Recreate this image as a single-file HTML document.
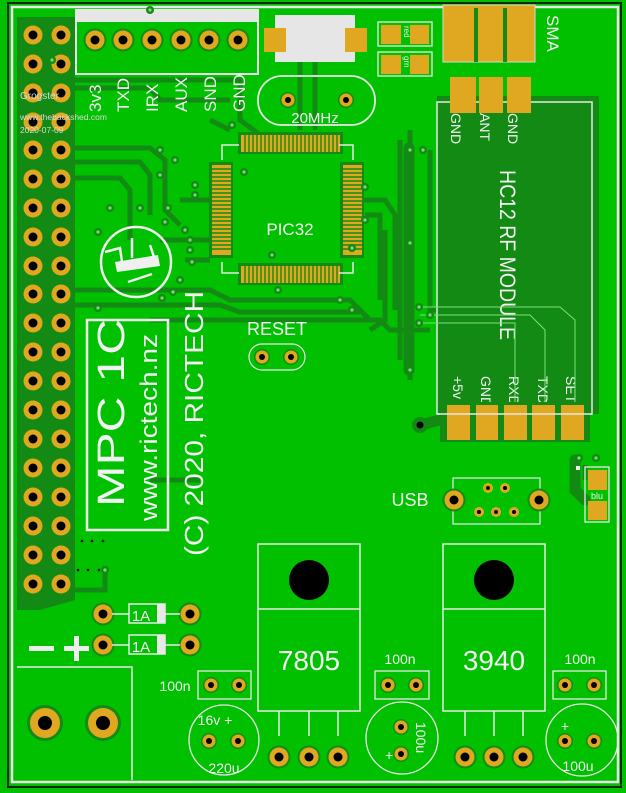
<!DOCTYPE html>
<html><head><meta charset="utf-8"><style>
html,body{margin:0;padding:0;background:#00b800;}
svg{display:block}
text{font-family:"Liberation Sans",sans-serif;fill:#f2f2f2}
</style></head><body>
<svg width="626" height="793" viewBox="0 0 626 793" xmlns="http://www.w3.org/2000/svg">
<defs>
<g id="p"><circle r="11.5" fill="#138a13"/><circle r="9.5" fill="#e0a820"/><circle r="4.5" fill="#000"/></g>
<g id="ps"><circle r="8" fill="#138a13"/><circle r="6.5" fill="#e0a820"/><circle r="3" fill="#000"/></g>
<g id="v"><circle r="4" fill="#138a13"/><circle r="1.6" fill="#7cd87c"/></g>
</defs>
<rect width="626" height="793" fill="#00c000"/>
<rect x="8" y="3" width="613" height="784" fill="none" stroke="#0a2a0a" stroke-width="2"/>
<rect x="12" y="7" width="606" height="775" fill="none" stroke="#e8e8e8" stroke-width="2.5"/>

<path d="M17,17 L75,17 L75,600 L40,610 L17,610 Z" fill="#138a13"/>
<g stroke="#138a13" stroke-width="5" fill="none">
<path d="M50,80 L240,80 L240,120 L260,135"/><path d="M50,88 L150,88 L160,100 L230,100"/>
<path d="M75,148 L150,148 L165,160 L165,210 L180,225"/><path d="M75,162 L140,162 L150,175 L150,215"/>
<path d="M75,178 L120,178 L130,190 L130,240"/><path d="M75,290 L210,290 L230,300 L350,300 L370,320"/>
<path d="M75,305 L220,305 L240,312 L360,312"/><path d="M150,320 L380,320 L390,330 L430,330"/>
<path d="M150,480 L200,480"/><path d="M17,600 L60,590 L105,590 L105,570"/>
<path d="M400,140 L400,360"/><path d="M410,130 L410,380"/><path d="M385,230 L385,320 L370,330"/>
<path d="M430,150 L430,310 L440,310"/><path d="M300,60 L300,130"/><path d="M315,60 L315,130"/>
<path d="M160,240 L210,240"/><path d="M180,200 L210,200"/><path d="M185,260 L210,260"/>
<path d="M360,200 L385,200 L395,215 L395,310"/><path d="M210,120 L230,130"/>
<path d="M365,215 L380,215 L380,300"/><path d="M585,465 L585,480"/>
</g>
<g stroke="#138a13" stroke-width="11" fill="none" stroke-linecap="round"><path d="M409,148 L409,370"/><path d="M420,425 L440,420"/><path d="M575,460 L575,490 L585,500"/></g>
<circle cx="420" cy="425" r="8" fill="#138a13"/>
<circle cx="420" cy="425" r="3.5" fill="#000"/>

<g>
<use href="#p" x="33" y="35"/><use href="#p" x="61" y="35"/>
<use href="#p" x="33" y="64"/><use href="#p" x="61" y="64"/>
<use href="#p" x="33" y="93"/><use href="#p" x="61" y="93"/>
<use href="#p" x="33" y="122"/><use href="#p" x="61" y="122"/>
<use href="#p" x="33" y="150"/><use href="#p" x="61" y="150"/>
<use href="#p" x="33" y="179"/><use href="#p" x="61" y="179"/>
<use href="#p" x="33" y="208"/><use href="#p" x="61" y="208"/>
<use href="#p" x="33" y="237"/><use href="#p" x="61" y="237"/>
<use href="#p" x="33" y="266"/><use href="#p" x="61" y="266"/>
<use href="#p" x="33" y="294"/><use href="#p" x="61" y="294"/>
<use href="#p" x="33" y="323"/><use href="#p" x="61" y="323"/>
<use href="#p" x="33" y="352"/><use href="#p" x="61" y="352"/>
<use href="#p" x="33" y="381"/><use href="#p" x="61" y="381"/>
<use href="#p" x="33" y="410"/><use href="#p" x="61" y="410"/>
<use href="#p" x="33" y="439"/><use href="#p" x="61" y="439"/>
<use href="#p" x="33" y="468"/><use href="#p" x="61" y="468"/>
<use href="#p" x="33" y="497"/><use href="#p" x="61" y="497"/>
<use href="#p" x="33" y="526"/><use href="#p" x="61" y="526"/>
<use href="#p" x="33" y="555"/><use href="#p" x="61" y="555"/>
<use href="#p" x="33" y="584"/><use href="#p" x="61" y="584"/>
</g>
<text x="20" y="99" font-size="10" style="fill:#d8d8d8">Grogster</text>
<text x="20" y="120" font-size="8.5" style="fill:#d8d8d8">www.thebackshed.com</text>
<text x="20" y="133" font-size="8.5" style="fill:#d8d8d8">2020-07-09</text>

<rect x="76" y="10" width="182" height="12" fill="#e6e6e6"/>
<rect x="76" y="10" width="182" height="64" fill="none" stroke="#e8e8e8" stroke-width="2"/>
<use href="#p" x="95" y="40"/><use href="#p" x="123" y="40"/><use href="#p" x="152" y="40"/>
<use href="#p" x="181" y="40"/><use href="#p" x="209" y="40"/><use href="#p" x="238" y="40"/>
<g font-size="17">
<text transform="translate(101,112) rotate(-90)">3v3</text>
<text transform="translate(129,112) rotate(-90)">TXD</text>
<text transform="translate(158,112) rotate(-90)">IRX</text>
<text transform="translate(187,112) rotate(-90)">AUX</text>
<text transform="translate(216,112) rotate(-90)">SND</text>
<text transform="translate(245,112) rotate(-90)">GND</text>
</g>

<rect x="275" y="15" width="80" height="47" fill="#e6e6e6"/>
<rect x="264" y="28" width="22" height="24" fill="#e0a820"/>
<rect x="345" y="28" width="22" height="24" fill="#e0a820"/>
<rect x="258" y="76" width="117" height="49" rx="24" fill="none" stroke="#e8e8e8" stroke-width="1.8"/>
<use href="#ps" x="288" y="100"/><use href="#ps" x="346" y="100"/>
<text x="315" y="123" font-size="15" text-anchor="middle">20MHz</text>

<rect x="378" y="22" width="54" height="24" fill="none" stroke="#e8e8e8" stroke-width="1.3"/>
<rect x="381" y="25" width="20" height="19" fill="#e0a820"/><rect x="410" y="25" width="19" height="19" fill="#e0a820"/>
<text transform="translate(404,42) rotate(90)" font-size="8" style="fill:#eee" x="-16">red</text>
<rect x="378" y="52" width="54" height="24" fill="none" stroke="#e8e8e8" stroke-width="1.3"/>
<rect x="381" y="55" width="20" height="19" fill="#e0a820"/><rect x="410" y="55" width="19" height="19" fill="#e0a820"/>
<text transform="translate(404,72) rotate(90)" font-size="8" style="fill:#eee" x="-16">grn</text>

<rect x="443" y="5" width="92" height="57" fill="#e0a820" stroke="#d8d8d8"/>
<rect x="474" y="8" width="4" height="54" fill="#138a13"/><rect x="503" y="8" width="4" height="54" fill="#138a13"/>
<text transform="translate(547,15) rotate(90)" font-size="17">SMA</text>

<rect x="437" y="96" width="162" height="318" fill="#138a13"/>
<rect x="437" y="102" width="155" height="312" fill="none" stroke="#e8e8e8" stroke-width="1.5"/>
<rect x="450" y="77" width="26" height="36" fill="#e0a820"/><rect x="479" y="77" width="24" height="36" fill="#e0a820"/><rect x="507" y="77" width="24" height="36" fill="#e0a820"/>
<g font-size="14">
<text transform="translate(451,113) rotate(90)">GND</text>
<text transform="translate(480,113) rotate(90)">ANT</text>
<text transform="translate(508,113) rotate(90)">GND</text>
<text transform="translate(500,170) rotate(90)" font-size="22" textLength="170" lengthAdjust="spacingAndGlyphs">HC12 RF MODULE</text>
<text transform="translate(453,376) rotate(90)">+5v</text>
<text transform="translate(481,376) rotate(90)">GND</text>
<text transform="translate(509,376) rotate(90)">RXD</text>
<text transform="translate(538,376) rotate(90)">TXD</text>
<text transform="translate(566,376) rotate(90)">SET</text>
</g>
<g stroke="#7ce07c" stroke-width="1" fill="none"><path d="M420,307 L560,307 L575,320 L575,405"/><path d="M420,315 L530,315 L545,330 L545,405"/><path d="M420,323 L515,323 L515,405"/></g>
<rect x="440" y="402" width="150" height="40" fill="#138a13"/>
<g fill="#e0a820"><rect x="447" y="405" width="23" height="35"/><rect x="476" y="405" width="22" height="35"/><rect x="504" y="405" width="23" height="35"/><rect x="532" y="405" width="23" height="35"/><rect x="561" y="405" width="23" height="35"/></g>
<line x1="437" y1="414" x2="592" y2="414" stroke="#e8e8e8" stroke-width="1.5"/>

<rect x="238" y="132" width="105" height="22" fill="#138a13"/>
<rect x="238" y="263" width="105" height="22" fill="#138a13"/>
<rect x="209" y="162" width="24" height="96" fill="#138a13"/>
<rect x="340" y="162" width="24" height="96" fill="#138a13"/>
<g fill="#e0a820">
<rect x="241" y="135" width="99" height="17"/><rect x="241" y="266" width="99" height="17"/>
<rect x="212" y="165" width="19" height="90"/><rect x="343" y="165" width="19" height="90"/>
</g>
<g stroke="#138a13" stroke-width="1.4">
<path d="M245,135V152M249,135V152M253,135V152M257,135V152M261,135V152M265,135V152M269,135V152M273,135V152M277,135V152M281,135V152M285,135V152M289,135V152M293,135V152M297,135V152M301,135V152M305,135V152M309,135V152M313,135V152M317,135V152M321,135V152M325,135V152M329,135V152M333,135V152M337,135V152"/>
<path d="M245,266V283M249,266V283M253,266V283M257,266V283M261,266V283M265,266V283M269,266V283M273,266V283M277,266V283M281,266V283M285,266V283M289,266V283M293,266V283M297,266V283M301,266V283M305,266V283M309,266V283M313,266V283M317,266V283M321,266V283M325,266V283M329,266V283M333,266V283M337,266V283"/>
<path d="M212,169H231M212,173H231M212,177H231M212,181H231M212,185H231M212,189H231M212,193H231M212,197H231M212,201H231M212,205H231M212,209H231M212,213H231M212,217H231M212,221H231M212,225H231M212,229H231M212,233H231M212,237H231M212,241H231M212,245H231M212,249H231"/>
<path d="M343,169H362M343,173H362M343,177H362M343,181H362M343,185H362M343,189H362M343,193H362M343,197H362M343,201H362M343,205H362M343,209H362M343,213H362M343,217H362M343,221H362M343,225H362M343,229H362M343,233H362M343,237H362M343,241H362M343,245H362M343,249H362"/>
</g>
<path d="M239,145H222V160M339,145H353V160M239,273H222V262M339,273H353V262" stroke="#e8e8e8" stroke-width="1.5" fill="none"/>
<text x="290" y="235" font-size="17" text-anchor="middle">PIC32</text>

<use href="#v" x="160" y="150"/><use href="#v" x="175" y="160"/><use href="#v" x="160" y="175"/><use href="#v" x="232" y="125"/>
<use href="#v" x="244" y="172"/><use href="#v" x="195" y="185"/><use href="#v" x="195" y="195"/><use href="#v" x="168" y="208"/>
<use href="#v" x="110" y="208"/><use href="#v" x="140" y="208"/><use href="#v" x="98" y="232"/><use href="#v" x="165" y="222"/>
<use href="#v" x="185" y="230"/><use href="#v" x="190" y="240"/><use href="#v" x="190" y="250"/><use href="#v" x="192" y="262"/>
<use href="#v" x="180" y="280"/><use href="#v" x="173" y="292"/><use href="#v" x="162" y="298"/><use href="#v" x="98" y="308"/>
<use href="#v" x="272" y="255"/><use href="#v" x="278" y="290"/><use href="#v" x="340" y="300"/><use href="#v" x="352" y="310"/>
<use href="#v" x="410" y="150"/><use href="#v" x="423" y="150"/><use href="#v" x="410" y="243"/><use href="#v" x="410" y="370"/>
<use href="#v" x="365" y="187"/><use href="#v" x="365" y="220"/><use href="#v" x="352" y="248"/><use href="#v" x="419" y="307"/><use href="#v" x="430" y="315"/><use href="#v" x="419" y="323"/>
<use href="#v" x="150" y="10"/><use href="#v" x="52" y="60"/><use href="#v" x="105" y="570"/><use href="#v" x="579" y="458"/><use href="#v" x="596" y="458"/>

<g stroke="#f0f0f0" stroke-width="2.5" fill="none">
<circle cx="136" cy="262" r="35"/>
<path d="M105,252 L120,248 L122,262 M132,238 L132,258 M150,245 L155,260 M128,282 L152,274"/>
</g>
<path d="M115,262 L158,255 L160,266 L117,272Z" fill="#f0f0f0"/>

<rect x="87" y="320" width="81" height="210" fill="none" stroke="#eeeeee" stroke-width="2.5"/>
<text transform="translate(124,507) rotate(-90)" font-size="38" textLength="188" lengthAdjust="spacingAndGlyphs">MPC 1C</text>
<text transform="translate(157,521) rotate(-90)" font-size="24" textLength="187" lengthAdjust="spacingAndGlyphs">www.rictech.nz</text>
<text transform="translate(203,556) rotate(-90)" font-size="26" textLength="265" lengthAdjust="spacingAndGlyphs">(C) 2020, RICTECH</text>
<g fill="#000"><circle cx="82" cy="541" r="1.3"/><circle cx="92" cy="541" r="1.3"/><circle cx="103" cy="541" r="1.3"/><circle cx="78" cy="570" r="1.3"/><circle cx="88" cy="570" r="1.3"/><circle cx="99" cy="570" r="1.3"/></g>

<text x="277" y="335" font-size="18" text-anchor="middle">RESET</text>
<rect x="249" y="344" width="56" height="26" rx="13" fill="none" stroke="#e8e8e8" stroke-width="1.2"/>
<use href="#ps" x="262" y="357"/><use href="#ps" x="291" y="357"/>

<text x="410" y="506" font-size="18" text-anchor="middle">USB</text>
<rect x="453" y="478" width="87" height="46" fill="none" stroke="#e8e8e8" stroke-width="1.2"/>
<use href="#p" x="454" y="500"/><use href="#p" x="539" y="500"/>
<g><circle cx="488" cy="488" r="5" fill="#e0a820"/><circle cx="488" cy="488" r="2" fill="#000"/>
<circle cx="505" cy="488" r="5" fill="#e0a820"/><circle cx="505" cy="488" r="2" fill="#000"/>
<circle cx="479" cy="512" r="5" fill="#e0a820"/><circle cx="479" cy="512" r="2" fill="#000"/>
<circle cx="496" cy="512" r="5" fill="#e0a820"/><circle cx="496" cy="512" r="2" fill="#000"/>
<circle cx="514" cy="512" r="5" fill="#e0a820"/><circle cx="514" cy="512" r="2" fill="#000"/></g>

<rect x="585" y="467" width="24" height="55" fill="none" stroke="#e8e8e8" stroke-width="1.3"/>
<rect x="588" y="470" width="19" height="20" fill="#e0a820"/><rect x="588" y="501" width="19" height="19" fill="#e0a820"/>
<text x="597" y="499" font-size="9" text-anchor="middle">blu</text>
<rect x="576" y="466" width="4" height="4" fill="#eee"/>

<use href="#p" x="103" y="614"/><use href="#p" x="190" y="614"/><use href="#p" x="103" y="645"/><use href="#p" x="190" y="645"/>
<g stroke="#e8e8e8" stroke-width="1.5"><line x1="112" y1="614" x2="180" y2="614"/><line x1="112" y1="645" x2="180" y2="645"/></g>
<rect x="129" y="604" width="36" height="19" fill="#00c000" stroke="#e8e8e8" stroke-width="1.5"/><rect x="157" y="604" width="8" height="19" fill="#e8e8e8"/>
<rect x="129" y="635" width="36" height="19" fill="#00c000" stroke="#e8e8e8" stroke-width="1.5"/><rect x="157" y="635" width="8" height="19" fill="#e8e8e8"/>
<text x="141" y="621" font-size="15" text-anchor="middle">1A</text><text x="141" y="652" font-size="15" text-anchor="middle">1A</text>
<rect x="29" y="646" width="25" height="5" fill="#eee"/><rect x="64" y="646" width="25" height="5" fill="#eee"/><rect x="74" y="636" width="5" height="25" fill="#eee"/>

<path d="M17,667 H132 V780" fill="none" stroke="#e8e8e8" stroke-width="1.5"/>
<g><circle cx="45" cy="723" r="18" fill="#138a13"/><circle cx="45" cy="723" r="15" fill="#e0a820"/><circle cx="45" cy="723" r="7" fill="#000"/>
<circle cx="103" cy="723" r="18" fill="#138a13"/><circle cx="103" cy="723" r="15" fill="#e0a820"/><circle cx="103" cy="723" r="7" fill="#000"/></g>

<g fill="none" stroke="#e8e8e8" stroke-width="1.5">
<rect x="258" y="544" width="102" height="167"/><line x1="258" y1="609" x2="360" y2="609"/>
<rect x="443" y="544" width="102" height="167"/><line x1="443" y1="609" x2="545" y2="609"/>
<path d="M279,711V736M309,711V736M338,711V736M465,711V736M494,711V736M523,711V736"/>
</g>
<ellipse cx="309" cy="580" rx="20" ry="20" fill="#000"/><ellipse cx="494" cy="580" rx="20" ry="20" fill="#000"/>
<text x="309" y="670" font-size="28" text-anchor="middle">7805</text>
<text x="494" y="670" font-size="28" text-anchor="middle">3940</text>
<use href="#p" x="279" y="757"/><use href="#p" x="309" y="757"/><use href="#p" x="338" y="757"/>
<use href="#p" x="465" y="757"/><use href="#p" x="494" y="757"/><use href="#p" x="523" y="757"/>

<g fill="none" stroke="#e8e8e8" stroke-width="1.3">
<rect x="198" y="671" width="53" height="28"/><rect x="375" y="671" width="54" height="28"/><rect x="553" y="671" width="53" height="28"/>
<circle cx="224" cy="740" r="35"/><circle cx="402" cy="738" r="36"/><circle cx="582" cy="740" r="36"/>
</g>
<use href="#ps" x="211" y="685"/><use href="#ps" x="239" y="685"/>
<use href="#ps" x="388" y="685"/><use href="#ps" x="416" y="685"/>
<use href="#ps" x="565" y="685"/><use href="#ps" x="594" y="685"/>
<text x="175" y="691" font-size="14" text-anchor="middle">100n</text>
<text x="400" y="664" font-size="14" text-anchor="middle">100n</text>
<text x="580" y="664" font-size="14" text-anchor="middle">100n</text>
<use href="#ps" x="209" y="741"/><use href="#ps" x="238" y="741"/>
<use href="#ps" x="401" y="727"/><use href="#ps" x="401" y="754"/>
<use href="#ps" x="565" y="741"/><use href="#ps" x="594" y="741"/>
<text x="215" y="725" font-size="14" text-anchor="middle">16v +</text>
<text x="224" y="773" font-size="14" text-anchor="middle">220u</text>
<text transform="translate(416,722) rotate(90)" font-size="14">100u</text>
<text x="385" y="760" font-size="14">+</text>
<text x="565" y="731" font-size="14" text-anchor="middle">+</text>
<text x="578" y="771" font-size="14" text-anchor="middle">100u</text>
</svg>
</body></html>
